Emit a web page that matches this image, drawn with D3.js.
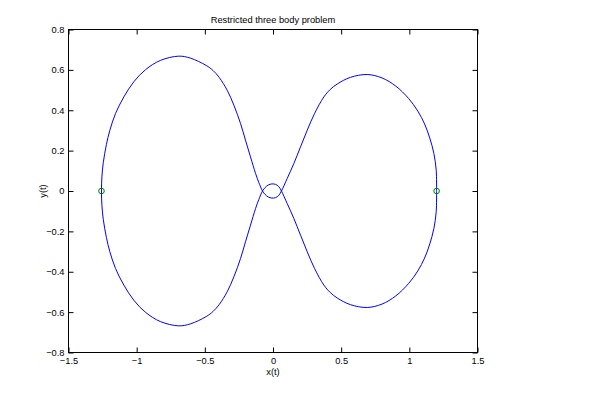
<!DOCTYPE html>
<html>
<head>
<meta charset="utf-8">
<script src="https://cdn.jsdelivr.net/npm/d3@7"></script>
<style>
  html, body { margin: 0; padding: 0; background: #ffffff; }
  svg { display: block; }
  text { font-family: "Liberation Sans", Arial, Helvetica, sans-serif; fill: #000; }
</style>
</head>
<body>
<svg id="chart" width="598" height="419"></svg>
<script>
// ---- data ----
const titleText = "Restricted three body problem";
const xLabelText = "x(t)";
const yLabelText = "y(t)";

const xTicks = [-1.5, -1, -0.5, 0, 0.5, 1, 1.5];
const xTickLabels = ["\u22121.5", "\u22121", "\u22120.5", "0", "0.5", "1", "1.5"];
const yTicks = [-0.8, -0.6, -0.4, -0.2, 0, 0.2, 0.4, 0.6, 0.8];
const yTickLabels = ["\u22120.8", "\u22120.6", "\u22120.4", "\u22120.2", "0", "0.2", "0.4", "0.6", "0.8"];

// orbit path (x(t), y(t))
const orbitX = [
  1.200, 1.197, 1.180, 1.150, 1.112, 1.062, 0.995, 0.900, 0.800, 0.691,
  0.568, 0.471, 0.420, 0.373, 0.305, 0.251, 0.202, 0.153, 0.104, 0.062,
  0.042, 0.018, -0.008, -0.034, -0.058, -0.077,
  -0.104, -0.128, -0.165, -0.202, -0.238, -0.287, -0.336, -0.395, -0.440, -0.490, -0.605,
  -0.691, -0.825, -0.935, -1.021, -1.094, -1.155, -1.197, -1.222, -1.245, -1.255, -1.258,
  -1.255, -1.245, -1.222, -1.197, -1.155, -1.094, -1.021, -0.935, -0.825, -0.691,
  -0.605, -0.490, -0.440, -0.395, -0.336, -0.287, -0.238, -0.202, -0.165, -0.128, -0.104,
  -0.077, -0.058, -0.034, -0.008, 0.018, 0.042, 0.062,
  0.104, 0.153, 0.202, 0.251, 0.305, 0.373, 0.420, 0.471, 0.568, 0.691,
  0.800, 0.900, 0.995, 1.062, 1.112, 1.150, 1.180, 1.197, 1.200
];
const orbitY = [
  0.000, 0.103, 0.186, 0.262, 0.332, 0.396, 0.458, 0.520, 0.560, 0.577,
  0.563, 0.530, 0.503, 0.466, 0.384, 0.301, 0.219, 0.136, 0.062, 0.000,
  -0.022, -0.033, -0.035, -0.030, -0.017, 0.000,
  0.042, 0.087, 0.169, 0.252, 0.334, 0.425, 0.499, 0.563, 0.597, 0.622, 0.658,
  0.668, 0.647, 0.601, 0.541, 0.466, 0.384, 0.300, 0.230, 0.140, 0.070, 0.000,
  -0.070, -0.140, -0.230, -0.300, -0.384, -0.466, -0.541, -0.601, -0.647, -0.668,
  -0.658, -0.622, -0.597, -0.563, -0.499, -0.425, -0.334, -0.252, -0.169, -0.087, -0.042,
  0.000, 0.017, 0.030, 0.035, 0.033, 0.022, 0.000,
  -0.062, -0.136, -0.219, -0.301, -0.384, -0.466, -0.503, -0.530, -0.563, -0.577,
  -0.560, -0.520, -0.458, -0.396, -0.332, -0.262, -0.186, -0.103, 0.000
];

// event points (circles)
const eventX = [1.200, -1.258];
const eventY = [0.000, 0.000];

// ---- drawing ----
const svg = d3.select("#chart");
svg.append("rect").attr("x", 0).attr("y", 0).attr("width", 598).attr("height", 419).attr("fill", "#ffffff");

const pLeft = 68.5, pRight = 477.5, pTop = 29.5, pBottom = 352.5;
const x = d3.scaleLinear().domain([-1.5, 1.5]).range([pLeft, pRight]);
const y = d3.scaleLinear().domain([-0.8, 0.8]).range([pBottom, pTop]);

const tickLen = 5;
const fontSize = "9.3px";

// bottom axis
const gx = svg.append("g").attr("transform", `translate(0,${pBottom})`)
  .call(d3.axisBottom(x).tickValues(xTicks).tickSize(-tickLen).tickPadding(5)
    .tickFormat((d, i) => xTickLabels[i]));
// top axis (ticks only)
const gxt = svg.append("g").attr("transform", `translate(0,${pTop})`)
  .call(d3.axisTop(x).tickValues(xTicks).tickSize(-tickLen).tickFormat(""));
// left axis
const gy = svg.append("g").attr("transform", `translate(${pLeft},0)`)
  .call(d3.axisLeft(y).tickValues(yTicks).tickSize(-tickLen).tickPadding(4)
    .tickFormat((d, i) => yTickLabels[i]));
// right axis (ticks only)
const gyr = svg.append("g").attr("transform", `translate(${pRight},0)`)
  .call(d3.axisRight(y).tickValues(yTicks).tickSize(-tickLen).tickFormat(""));

[gx, gxt, gy, gyr].forEach(g => {
  g.select(".domain").remove();
  g.selectAll(".tick line").attr("stroke", "#000").attr("stroke-width", 1);
  g.selectAll(".tick text").style("font-size", fontSize)
    .style("font-family", "'Liberation Sans', Arial, Helvetica, sans-serif").attr("fill", "#000");
});

// box
svg.append("rect")
  .attr("x", pLeft).attr("y", pTop)
  .attr("width", pRight - pLeft).attr("height", pBottom - pTop)
  .attr("fill", "none").attr("stroke", "#000").attr("stroke-width", 1);

// orbit line
const pts = orbitX.map((v, i) => [v, orbitY[i]]);
const line = d3.line().x(d => x(d[0])).y(d => y(d[1])).curve(d3.curveCatmullRom.alpha(0.5));
svg.append("path")
  .datum(pts)
  .attr("d", line)
  .attr("fill", "none")
  .attr("stroke", "#0000ff")
  .attr("stroke-width", 1);

// event markers
svg.selectAll("circle.ev")
  .data(eventX.map((v, i) => [v, eventY[i]]))
  .enter().append("circle")
  .attr("class", "ev")
  .attr("cx", d => x(d[0])).attr("cy", d => y(d[1]))
  .attr("r", 2.8)
  .attr("fill", "none").attr("stroke", "#008000").attr("stroke-width", 1);

// title and labels
svg.append("text")
  .attr("x", (pLeft + pRight) / 2).attr("y", 23)
  .attr("text-anchor", "middle").style("font-size", fontSize)
  .text(titleText);
svg.append("text")
  .attr("x", (pLeft + pRight) / 2).attr("y", 375)
  .attr("text-anchor", "middle").style("font-size", fontSize)
  .text(xLabelText);
svg.append("text")
  .attr("transform", `translate(46,${(pTop + pBottom) / 2}) rotate(-90)`)
  .attr("text-anchor", "middle").style("font-size", fontSize)
  .text(yLabelText);
</script>
</body>
</html>
